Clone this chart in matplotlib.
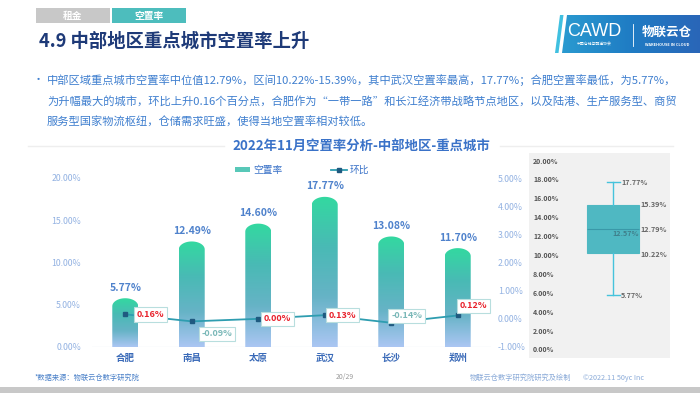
import numpy as np
import matplotlib
matplotlib.use('Agg')
import matplotlib.pyplot as plt
from matplotlib.path import Path
from matplotlib.patches import PathPatch, Rectangle, Polygon, Patch
from matplotlib.lines import Line2D
from matplotlib.colors import LinearSegmentedColormap

plt.rcParams['font.family'] = ['Noto Sans CJK SC', 'DejaVu Sans']

# ---------------- data ----------------
cities = ['合肥', '南昌', '太原', '武汉', '长沙', '郑州']
vacancy = [5.77, 12.49, 14.60, 17.77, 13.08, 11.70]      # 空置率 (%)
mom = [0.16, -0.09, 0.00, 0.13, -0.14, 0.12]             # 环比 (%)
left_ticks = [0, 5, 10, 15, 20]
right_ticks = [-1, 0, 1, 2, 3, 4, 5]
box_ticks = [0, 2, 4, 6, 8, 10, 12, 14, 16, 18, 20]

W, H = 700, 393
fig = plt.figure(figsize=(W / 100, H / 100), dpi=100)


def fbox(x0, y0, x1, y1):
    return [x0 / W, 1 - y1 / H, (x1 - x0) / W, (y1 - y0) / H]


# ---------------- overlay (decoration) ----------------
ov = fig.add_axes([0, 0, 1, 1], zorder=-1)
ov.set_xlim(0, W)
ov.set_ylim(H, 0)
ov.axis('off')

# tabs
ov.add_patch(Rectangle((36, 8), 74, 15, color='#c8c8c8', lw=0))
ov.add_patch(Rectangle((112, 8), 74, 15, color='#4dbdbd', lw=0))
ov.text(73, 15.5, '租金', color='white', fontsize=7, fontweight='bold', ha='center', va='center')
ov.text(149, 15.5, '空置率', color='white', fontsize=7, fontweight='bold', ha='center', va='center')

# title
ov.text(39, 41, '4.9 中部地区重点城市空置率上升', color='#1e3a78', fontsize=13.2,
        fontweight='bold', ha='left', va='center')

# logo
ov.add_patch(Polygon([(555, 53), (560, 15), (563.5, 15), (558.5, 53)], closed=True, color='#40c0e0', lw=0))
grad_h = np.linspace(0, 1, 256).reshape(1, -1)
logo_cmap = LinearSegmentedColormap.from_list('logo', ['#2a9ad0', '#1f7cc4', '#2a66b8'])
im = ov.imshow(grad_h, cmap=logo_cmap, extent=[562, 700, 53, 15], aspect='auto', zorder=1)
lp = Polygon([(562, 53), (567, 15), (700, 15), (700, 53)], closed=True, transform=ov.transData,
             fc='none', ec='none')
ov.add_patch(lp)
im.set_clip_path(lp)
ov.text(594, 31, 'CAWD', color='white', fontsize=13, family=['Liberation Sans', 'DejaVu Sans'],
        ha='center', va='center', zorder=3)
ov.text(594, 45, '中国仓储与配送协会', color='white', fontsize=2.8, ha='center', va='center', zorder=3)
ov.plot([633, 633], [24, 46], color='white', lw=0.6, zorder=3)
ov.text(667, 32, '物联云仓', color='white', fontsize=9, fontweight='bold', ha='center',
        va='center', zorder=3)
ov.text(667, 45, 'WAREHOUSE IN CLOUD', color='white', fontsize=2.8, fontweight='bold',
        ha='center', va='center', zorder=3)
ov.set_xlim(0, W)
ov.set_ylim(H, 0)

# bullet paragraph
txt_color = '#3f7fcf'
ov.text(33, 80, '•', color=txt_color, fontsize=8, ha='left', va='center')
lines = [
    '中部区域重点城市空置率中位值12.79%，区间10.22%-15.39%，其中武汉空置率最高，17.77%；合肥空置率最低，为5.77%，',
    '为升幅最大的城市，环比上升0.16个百分点，合肥作为“一带一路”和长江经济带战略节点地区，以及陆港、生产服务型、商贸',
    '服务型国家物流枢纽，仓储需求旺盛，使得当地空置率相对较低。',
]
for i, ln in enumerate(lines):
    ov.text(47, 80 + 21 * i, ln, color=txt_color, fontsize=8.1, ha='left', va='center')

# chart title and separators
ov.plot([28, 224], [146, 146], color='#eeeeee', lw=1)
ov.plot([500, 673], [146, 146], color='#eeeeee', lw=1)
ov.text(361, 146, '2022年11月空置率分析-中部地区-重点城市', color='#3a72c8', fontsize=9.6,
        fontweight='bold', ha='center', va='center')

# footer
ov.add_patch(Rectangle((0, 387), W, 6, color='#c8c8c8', lw=0))
ov.text(35, 378, '*数据来源：物联云仓数字研究院', color='#4a80c8', fontsize=5.2, style='italic',
        ha='left', va='center')
ov.text(345, 377, '20/29', color='#999999', fontsize=5, ha='center', va='center')
ov.text(470, 378, '物联云仓数字研究院研究及绘制', color='#8aaad8', fontsize=5.2, ha='left', va='center')
ov.text(583, 378, '©2022.11 50yc Inc', color='#8aaad8', fontsize=5.2, ha='left', va='center')

# ---------------- main chart ----------------
ax = fig.add_axes(fbox(92, 178, 491, 347))
ax.patch.set_visible(False)
x = np.arange(len(cities))
bars = ax.bar(x, vacancy, width=0.39, color='none', edgecolor='none')
bar_cmap = LinearSegmentedColormap.from_list('bar', ['#abc6f3', '#66b3c6', '#49bab5', '#33d9a0'])
grad_v = np.linspace(0, 1, 256).reshape(-1, 1)
ry = 8 * 20 / 169.0
for b in bars:
    x0, w, h = b.get_x(), b.get_width(), b.get_height()
    xc = x0 + w / 2
    t = np.linspace(np.pi, 0, 40)
    verts = [(x0, 0), (x0, h - ry)]
    verts += [(xc + w / 2 * np.cos(tt), h - ry + ry * np.sin(tt)) for tt in t]
    verts += [(x0 + w, 0), (x0, 0)]
    codes = [Path.MOVETO] + [Path.LINETO] * (len(verts) - 2) + [Path.CLOSEPOLY]
    pp = PathPatch(Path(verts, codes), transform=ax.transData, fc='none', ec='none')
    ax.add_patch(pp)
    gim = ax.imshow(grad_v, cmap=bar_cmap, origin='lower', extent=[x0, x0 + w, 0, h],
                    aspect='auto', zorder=2, interpolation='bilinear')
    gim.set_clip_path(pp)
    ax.annotate(f'{h:.2f}%', (xc, h), xytext=(0, 4), textcoords='offset points',
                ha='center', va='bottom', color='#4f82cc', fontsize=7.5, fontweight='bold')

ax.set_xlim(-0.5, 5.5)
ax.set_ylim(0, 20)
ax.axhline(0, color='#eef1f5', lw=1, zorder=1)
ax.set_yticks(left_ticks)
ax.set_yticklabels([f'{t:.2f}%' for t in left_ticks], color='#93b2e2', fontsize=6.3)
ax.set_xticks(x)
ax.set_xticklabels(cities, color='#3a6ab8', fontsize=6.8, fontweight='bold')
ax.tick_params(axis='y', length=0, pad=8)
ax.tick_params(axis='x', length=0, pad=4)
for s in ax.spines.values():
    s.set_visible(False)

ax2 = ax.twinx()
ax2.set_ylim(-1, 5)
ax2.plot(x, mom, color='#2e9db0', lw=1.3, marker='s', ms=2.6, mfc='#1f5a80', mec='#1f5a80', zorder=3)
ax2.set_yticks(right_ticks)
ax2.set_yticklabels([f'{t:.2f}%' for t in right_ticks], color='#93b2e2', fontsize=6.3)
ax2.tick_params(axis='y', length=0, pad=5)
for s in ax2.spines.values():
    s.set_visible(False)
offsets = [(18, 0), (18, -9), (14, 0), (13, 0), (11, 5), (11.5, 7)]
for xi, v, off in zip(x, mom, offsets):
    col = '#e8212b' if v >= 0 else '#7ab8b8'
    ax2.annotate(f'{v:.2f}%', (xi, v), xytext=off, textcoords='offset points',
                 ha='center', va='center', color=col, fontsize=6.5, fontweight='bold',
                 bbox=dict(boxstyle='square,pad=0.3', fc='white', ec='#b8dede', lw=0.8), zorder=4)

handles = [Patch(facecolor='#58c8b8', edgecolor='none'),
           Line2D([0], [0], color='#2e9db0', lw=1.3, marker='s', ms=2.6, mfc='#1f5a80', mec='#1f5a80')]
fig.legend(handles, ['空置率', '环比'], loc='center', bbox_to_anchor=(302 / W, 1 - 170 / H), ncol=2,
           frameon=False, fontsize=7, labelcolor='#3a72c8', handlelength=1.6, handleheight=0.5,
           columnspacing=5, handletextpad=0.3)

# ---------------- box plot panel ----------------
bx = fig.add_axes(fbox(529, 153, 670, 358))
bx.set_facecolor('#f1f1f1')
ppu = 189 / 20.0
bx.set_ylim(-8 / ppu, 20 + 8 / ppu)
bx.set_xlim(0, 1)
q1, med, q3 = np.percentile(vacancy, [25, 50, 75], method='weibull')
stats = [dict(med=med, q1=q1, q3=q3, whislo=min(vacancy), whishi=max(vacancy),
              mean=np.mean(vacancy), fliers=[])]
pos = (613 - 529) / 141.0
bw = 52 / 141.0
bx.bxp(stats, positions=[pos], widths=bw, patch_artist=True, showmeans=False,
       boxprops=dict(facecolor='#4fb8c2', edgecolor='#4fb8c2', lw=0.8),
       whiskerprops=dict(color='#45c3dc', lw=1),
       capprops=dict(color='#45c3dc', lw=1), capwidths=13 / 141.0,
       medianprops=dict(color='#3a98a8', lw=0.8), manage_ticks=False)
bx.set_xticks([])
bx.set_yticks([])
for s in bx.spines.values():
    s.set_visible(False)
yt = bx.get_yaxis_transform()
for t in box_ticks:
    bx.text(4 / 141.0, t, f'{t:.2f}%', transform=yt, color='#555555', fontsize=5,
            fontweight='bold', ha='left', va='center')
lab_kw = dict(color='#666666', fontsize=5.2, fontweight='bold', va='center')
xr = (640 - 529) / 141.0
xc_ = (621 - 529) / 141.0
bx.text(xc_, max(vacancy), f'{max(vacancy):.2f}%', ha='left', **lab_kw)
bx.text(xr, q3, f'{q3:.2f}%', ha='left', **lab_kw)
bx.text(xr, med, f'{med:.2f}%', ha='left', **lab_kw)
bx.text(xr, q1 - 0.1, f'{q1:.2f}%', ha='left', **lab_kw)
bx.text(xc_, min(vacancy), f'{min(vacancy):.2f}%', ha='left', **lab_kw)
bx.text((639 - 529) / 141.0, np.mean(vacancy) - 0.2, f'{np.mean(vacancy):.2f}%', ha='right',
        color='#3f7f8a', fontsize=5.2, fontweight='bold', va='center')

fig.savefig('out.png', dpi=100)
